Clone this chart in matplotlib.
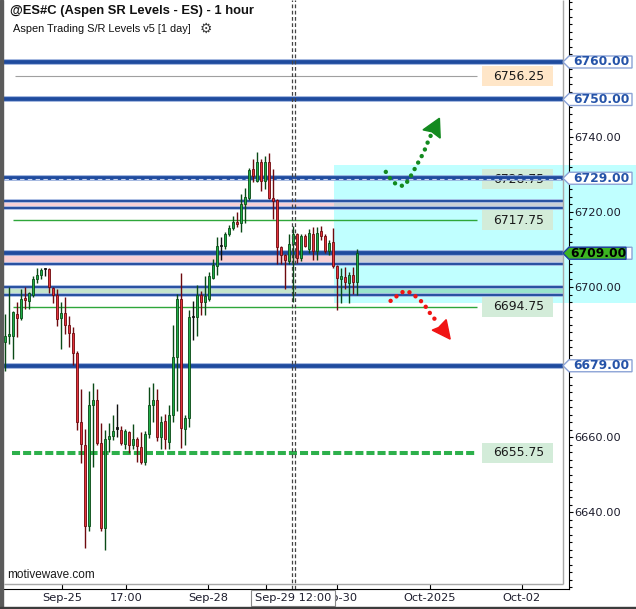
import matplotlib
matplotlib.use('Agg')
import matplotlib.pyplot as plt
from matplotlib.patches import Rectangle, Polygon
from matplotlib.ticker import MultipleLocator

plt.rcParams['font.family'] = ['DejaVu Sans']

# hourly bars of @ES#C (bar index = position)
opens = [6685.25, 6687.0, 6687.0, 6692.75, 6691.75, 6697.0, 6696.25, 6698.0, 6702.0, 6703.25,
         6704.75, 6704.75, 6699.75, 6698.0, 6691.75, 6693.0, 6689.75, 6687.75, 6682.5, 6664.0,
         6658.0, 6636.25, 6668.5, 6669.75, 6658.5, 6635.75, 6659.5, 6660.25, 6662.25, 6661.75,
         6658.25, 6661.25, 6657.75, 6659.5, 6657.25, 6653.25, 6660.75, 6668.5, 6670.0, 6660.0,
         6664.25, 6658.75, 6665.75, 6681.25, 6696.75, 6662.25, 6665.0, 6692.0, 6692.0, 6698.0,
         6696.0, 6696.75, 6702.5, 6705.5, 6711.0, 6711.0, 6714.0, 6715.75, 6717.25, 6717.0,
         6722.0, 6723.75, 6731.5, 6728.25, 6733.25, 6728.25, 6733.25, 6723.75, 6723.25, 6710.75,
         6708.5, 6707.0, 6711.5, 6714.0, 6707.75, 6713.5, 6710.0, 6714.25, 6709.5, 6715.0,
         6713.5, 6709.5, 6712.0, 6705.5, 6702.0, 6702.75, 6701.0, 6703.25, 6701.25]
highs = [6692.75, 6700.0, 6693.5, 6696.0, 6699.5, 6700.0, 6698.75, 6703.0, 6705.0, 6705.0,
         6705.0, 6705.0, 6700.0, 6699.5, 6696.0, 6697.25, 6692.25, 6689.25, 6683.0, 6672.75,
         6662.25, 6672.25, 6674.5, 6672.75, 6663.75, 6662.0, 6663.75, 6666.0, 6668.75, 6663.0,
         6662.25, 6661.5, 6663.5, 6660.0, 6661.25, 6661.5, 6673.25, 6674.5, 6672.75, 6665.5,
         6666.25, 6668.5, 6690.0, 6698.25, 6703.75, 6666.0, 6694.0, 6696.25, 6700.5, 6699.0,
         6703.0, 6704.0, 6707.5, 6713.25, 6713.25, 6714.75, 6716.5, 6719.0, 6720.0, 6724.75,
         6726.5, 6731.75, 6734.25, 6736.0, 6734.25, 6735.0, 6735.75, 6731.5, 6723.5, 6711.0,
         6708.75, 6714.0, 6716.25, 6714.5, 6714.0, 6714.0, 6715.5, 6716.0, 6716.0, 6716.25,
         6714.0, 6712.5, 6715.75, 6705.75, 6705.0, 6705.25, 6704.0, 6705.25, 6710.25]
lows = [6677.5, 6684.75, 6680.75, 6686.75, 6691.25, 6694.25, 6694.25, 6697.25, 6701.0, 6702.0,
        6703.0, 6698.5, 6695.75, 6689.5, 6683.5, 6687.5, 6684.0, 6679.25, 6662.0, 6653.0,
        6630.5, 6635.0, 6652.0, 6658.0, 6635.0, 6630.0, 6656.0, 6659.25, 6660.0, 6658.0,
        6656.75, 6655.75, 6656.75, 6653.25, 6652.75, 6652.5, 6659.75, 6664.0, 6659.0, 6656.75,
        6656.75, 6656.75, 6664.0, 6667.0, 6657.0, 6658.0, 6662.75, 6686.0, 6687.0, 6692.5,
        6692.5, 6696.25, 6702.0, 6703.25, 6707.25, 6710.25, 6713.5, 6715.25, 6716.0, 6714.75,
        6717.0, 6723.25, 6728.0, 6728.0, 6725.5, 6726.0, 6723.5, 6718.25, 6706.0, 6706.0,
        6699.5, 6706.25, 6696.0, 6706.5, 6707.0, 6710.75, 6709.0, 6707.25, 6707.25, 6712.5,
        6709.0, 6708.5, 6705.0, 6694.0, 6695.75, 6699.5, 6695.75, 6698.25, 6698.0]
closes = [6687.0, 6687.5, 6693.25, 6691.75, 6696.75, 6696.5, 6698.5, 6702.0, 6703.25, 6704.5,
          6704.75, 6700.0, 6698.0, 6691.5, 6693.0, 6690.0, 6687.75, 6682.5, 6664.0, 6658.25,
          6636.25, 6668.5, 6670.0, 6658.5, 6635.75, 6659.5, 6660.25, 6661.5, 6662.25, 6658.5,
          6661.5, 6657.75, 6659.5, 6657.5, 6653.25, 6660.75, 6668.5, 6670.0, 6660.0, 6664.0,
          6659.5, 6665.75, 6681.25, 6696.75, 6662.5, 6665.0, 6692.0, 6692.0, 6698.0, 6696.0,
          6697.5, 6703.0, 6705.75, 6711.0, 6711.0, 6714.25, 6715.75, 6717.25, 6716.75, 6722.0,
          6724.0, 6731.25, 6729.5, 6733.25, 6728.25, 6733.25, 6723.75, 6723.0, 6710.75, 6708.5,
          6707.25, 6711.5, 6714.0, 6707.75, 6713.5, 6711.0, 6714.5, 6709.5, 6714.5, 6713.5,
          6709.5, 6711.75, 6705.5, 6702.5, 6703.0, 6701.25, 6703.25, 6701.25, 6709.0]

# S/R levels
sr_levels = [6760, 6750, 6729, 6709, 6679]
pink_zones = [(6721, 6723), (6706, 6709)]
green_zones = [(6698, 6700)]
marked = [6756.25, 6728.75, 6717.75, 6694.75, 6655.75]
marked_labels = ['6756.25', '6728.75', '6717.75', '6694.75', '6655.75']
last_price = 6709.00
box_lo, box_hi = 6695.75, 6732.5      # cyan projection box

# x axis dates (bar positions); Sep-29 sits under the crosshair label
date_ticks = [14.2, 30.2, 50.7, 65.2, 83.1, 106.15, 129.2]
date_labels = ['Sep-25', '17:00', 'Sep-28', '', 'Sep-30', 'Oct-2025', 'Oct-02']

fig = plt.figure(figsize=(6.36, 6.09), dpi=100)
ax = fig.add_axes([4 / 636, 20 / 609, 565 / 636, 589 / 609])
X0, X1 = -0.25, 139.5
ax.set_xlim(-0.25, 141)
ax.set_ylim(6619.47, 6776.53)

# cyan box (runs over the price scale)
ax.add_patch(Rectangle((82.25, box_lo), 157.75 - 82.25, box_hi - box_lo,
                       facecolor='#C0FFFF', edgecolor='none', zorder=0.5, clip_on=False))

# zones
for lo, hi in pink_zones:
    ax.fill_between([X0, X1], lo, hi, color='#EB6676', alpha=0.3, lw=0, zorder=1)
for lo, hi in green_zones:
    ax.fill_between([X0, X1], lo, hi, color='#41AC55', alpha=0.3, lw=0, zorder=1)
edges = [6723, 6721, 6706, 6700, 6698]
for e in edges:
    ax.hlines(e, X0, X1, color='#A5B8E2', lw=2.6, zorder=2)
    ax.hlines(e, X0, X1, color='#2A52A2', lw=1.5, zorder=2.1)

for lv in sr_levels:
    ax.hlines(lv, X0, X1, color='#8DA6D8', lw=4.0, zorder=2.2)
    ax.hlines(lv, X0, X1, color='#1F4B9E', lw=2.7, zorder=2.3)

# marked levels and their labels
ax.hlines(marked[0], 2.5, 118, color='#A0A0A0', lw=0.8, zorder=1.8)
ax.hlines(marked[1], X0, X1, color='#C9D3EE', lw=0.8, linestyles=(0, (4, 3)), zorder=2.4)
ax.hlines(marked[2], 2, 118, color='#2EA63A', lw=1.0, zorder=1.8)
ax.hlines(marked[3], 2, 118, color='#2EA63A', lw=1.0, zorder=1.8)
ax.hlines(marked[4], 1.75, 118, color='#2DB04B', lw=2.9, linestyles=(0, (2.0, 0.75)), zorder=1.8)
for lv, lab in zip(marked, marked_labels):
    fc = '#FFE6C8' if lab == '6756.25' else '#D3ECD9'
    ax.add_patch(Rectangle((119.25, lv - 2.67), 17.75, 5.34, facecolor=fc,
                           edgecolor='none', zorder=1.9))
    ax.text(128.3, lv, lab, ha='center', va='center', fontsize=8.9, color='#1a1a1a', zorder=1.95)

# candles
for i in range(len(opens)):
    o, h, l, c = opens[i], highs[i], lows[i], closes[i]
    if c > o:
        fc, ec = '#1FAE47', '#0A4A16'
    elif c < o:
        fc, ec = '#E5333C', '#6E0A0E'
    else:
        fc, ec = '#111111', '#111111'
    ax.vlines(i, l, h, color=ec, lw=1.0, zorder=3)
    body = max(abs(c - o), 0.3)
    ax.bar(i, body, bottom=min(o, c), width=0.74, color=fc, edgecolor=ec, lw=0.6, zorder=3.1)

# crosshair
for cx in (71.75, 72.5):
    ax.axvline(cx, color='#444444', lw=0.9, ls=(0, (3, 2)), zorder=3.5)

# projection arrows
gx = [95.2, 96.25, 97.75, 99.6, 100.9, 101.9, 102.8, 103.75, 104.7, 105.4, 106.4]
gy = [6730.7, 6729.0, 6727.4, 6726.9, 6728.5, 6730.5, 6732.2, 6734.1, 6735.9, 6737.9, 6740.3]
ax.plot(gx, gy, color='#138A1F', lw=3.2, ls=(0, (0.01, 1.65)), dash_capstyle='round', zorder=4)
ax.add_patch(Polygon([(108.6, 6745.0), (104.5, 6741.9), (106.7, 6741.4), (108.8, 6739.7)],
                     closed=True, color='#138A1F', zorder=4))
rx = [96.4, 98.1, 99.75, 101.5, 103.1, 104.6, 105.7, 106.7, 108.1]
ry = [6696.3, 6697.7, 6698.9, 6698.5, 6697.1, 6695.65, 6693.9, 6692.3, 6690.7]
ax.plot(rx, ry, color='#F01414', lw=3.2, ls=(0, (0.01, 1.65)), dash_capstyle='round', zorder=4)
ax.add_patch(Polygon([(111.3, 6686.1), (106.8, 6688.5), (108.4, 6689.2), (110.3, 6691.3)],
                     closed=True, color='#F01414', zorder=4))

# panel border
ax.vlines(X1, 6620.8, 6776.53, color='#A8A8A8', lw=1.0, zorder=4.5)
ax.hlines(6620.8, X0, X1, color='#A8A8A8', lw=1.0, zorder=4.5)


# tags on the price scale
def tag(price, text, fc, ec, tc, x_end):
    pts = [(139.5, price), (141, price + 1.6), (x_end, price + 1.6),
           (x_end, price - 1.6), (141, price - 1.6)]
    ax.add_patch(Polygon(pts, closed=True, facecolor=fc, edgecolor=ec, lw=1.0,
                         zorder=6, clip_on=False))
    if text:
        ax.text((141 + x_end) / 2 + 0.2, price, text, ha='center', va='center', fontsize=8.8,
                fontweight='bold', color=tc, zorder=6.5, clip_on=False)


for lv in sr_levels:
    tag(lv, '' if lv == last_price else '%.2f' % lv, 'white', '#8CA3D6', '#2553A8', 156.75)
tag(last_price, '%.2f' % last_price, '#3CB521', '#1D3FA0', '#000000', 155.25)

# axes styling
for s in ('top', 'left'):
    ax.spines[s].set_visible(False)
ax.spines['right'].set_color('black')
ax.spines['bottom'].set_color('black')
ax.set_facecolor('white')
ax.yaxis.tick_right()
ax.set_yticks([6640, 6660, 6680, 6700, 6720, 6740, 6760])
ax.set_yticklabels(['6640.00', '6660.00', '', '6700.00', '6720.00', '6740.00', ''])
ax.yaxis.set_minor_locator(MultipleLocator(2))
ax.tick_params(axis='y', which='major', direction='out', length=3, width=0.8, pad=0.5,
               labelsize=8.2, labelcolor='#1c1c2c')
ax.tick_params(axis='y', which='minor', direction='out', length=1.8, width=0.8)
ax.set_xticks(date_ticks)
ax.set_xticklabels(date_labels)
ax.tick_params(axis='x', direction='in', length=3.6, width=0.8, pad=3, labelsize=8.2,
               labelcolor='#1c1c2c')

# crosshair date box
ax.add_patch(Rectangle((61.6, 6614.9), 20.9, 4.4, facecolor='white', edgecolor='#8a8a8a',
                       lw=0.8, zorder=10, clip_on=False))
ax.text(72.05, 6617.05, 'Sep-29 12:00', ha='center', va='center', fontsize=8.2,
        color='#1c1c2c', zorder=11, clip_on=False)

# header text
fig.text(10 / 636, 1 - 11 / 609, '@ES#C (Aspen SR Levels - ES) - 1 hour', fontsize=9.4,
         fontweight='bold', family='Liberation Sans', va='center', color='#111111')
fig.text(13 / 636, 1 - 28.5 / 609, 'Aspen Trading S/R Levels v5 [1 day]', fontsize=7.9,
         family='Liberation Sans', va='center', color='#111111')
fig.text(205.5 / 636, 1 - 29 / 609, '\u2699', fontsize=10, ha='center', va='center',
         color='#3a3a3a')
fig.text(7 / 636, 1 - 575 / 609, 'motivewave.com', fontsize=8.5, family='Liberation Sans',
         va='center', color='#1a1a1a')

# window frame
fig.patches.append(Rectangle((0, 0), 2.5 / 636, 1, transform=fig.transFigure,
                             color='#5a5a5a', zorder=20))
fig.patches.append(Rectangle((0, 0), 1, 2.5 / 609, transform=fig.transFigure,
                             color='#3c3c3c', zorder=20))

fig.savefig('out.png', dpi=100)
